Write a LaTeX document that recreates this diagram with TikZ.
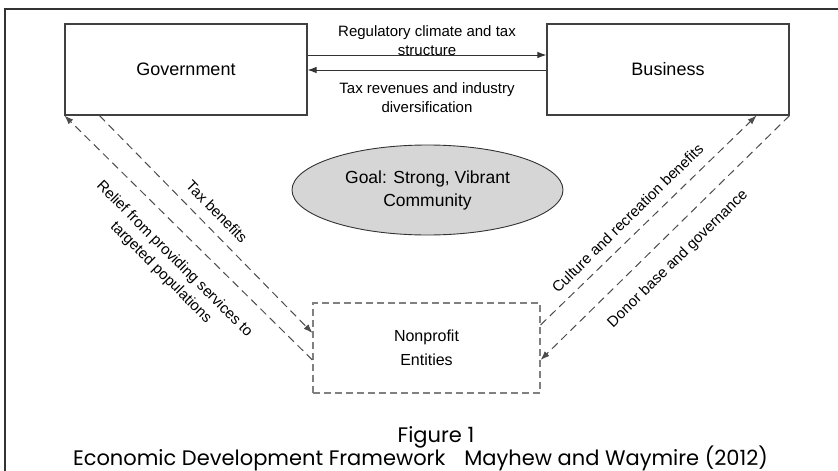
\documentclass[tikz,border=0pt]{standalone}
\usepackage{fontspec}
\setmainfont{Liberation Sans}
\newfontfamily\capfont{Poppins}
\usetikzlibrary{arrows.meta,shapes.geometric}
\begin{document}
\begin{tikzpicture}[x=1pt,y=-1pt,
  boxstyle/.style={draw=black!75,line width=1.1pt,rectangle,
    minimum width=242pt,minimum height=91pt,inner sep=0pt,
    font=\fontsize{18}{20}\selectfont},
  npstyle/.style={draw=black!50,line width=1.1pt,dash pattern=on 7pt off 4pt,
    rectangle,minimum width=227pt,minimum height=90pt,inner sep=0pt,
    align=center,font=\fontsize{16}{24}\selectfont},
  goalstyle/.style={ellipse,draw=black!80,line width=0.9pt,fill=black!16,
    minimum width=271pt,minimum height=90pt,inner sep=0pt,align=center,
    font=\fontsize{17.5}{23}\selectfont},
  flow/.style={draw=black!80,line width=1pt},
  tip/.style={-{Latex[length=9pt,width=6.5pt]}},
  dashflow/.style={draw=black!70,line width=1pt,dash pattern=on 8pt off 5pt},
  lbl/.style={font=\fontsize{15}{19}\selectfont,align=center,inner sep=0pt},
  captext/.style={font=\capfont\fontsize{21}{24}\selectfont,inner sep=0pt,anchor=base}
]
\useasboundingbox (0,0) rectangle (838,471);
\fill[white] (0,0) rectangle (838,471);

% outer frame (its right and bottom edges lie beyond the page)
\draw[black!80,line width=1.6pt] (5,480) -- (5,9) -- (845,9);

% main actors
\node[boxstyle] (gov) at (186,69.5) {Government};
\node[boxstyle] (bus) at (668,69.5) {Business};
\node[npstyle]  (np)  at (426.5,348) {Nonprofit\\Entities};
\node[goalstyle] (goal) at (427.5,190) {Goal: Strong, Vibrant\\Community};

% government <-> business
\draw[flow,tip] ([yshift=14.5pt]gov.east) -- ([yshift=14.5pt]bus.west);
\draw[flow,tip] ([yshift=-0.5pt]bus.west) -- ([yshift=-0.5pt]gov.west -| gov.east);
\node[lbl] (lreg) at (427,40.5) {Regulatory climate and tax\\structure};
\node[lbl] (ltax) at (427,98) {Tax revenues and industry\\diversification};

% government <-> nonprofit
\draw[dashflow,tip] ([yshift=-12pt]np.west) -- (gov.south west);
\draw[dashflow,tip] ([xshift=35pt]gov.south west) -- ([yshift=15pt]np.west);
\node[lbl,rotate=-45.5] (ltb) at (217,211.5) {Tax benefits};
\node[lbl,rotate=-45] (lrel) at (167.5,266) {Relief from providing services to\\targeted populations};

% business <-> nonprofit
\draw[dashflow,tip] ([yshift=23pt]np.east) -- ([xshift=-33pt]bus.south east);
\draw[dashflow,tip] (bus.south east) -- ([yshift=-12pt]np.east);
\node[lbl,rotate=44.5] (lcul) at (627.5,218) {Culture and recreation benefits};
\node[lbl,rotate=44.5] (ldon) at (678,259) {Donor base and governance};

% caption
\node[captext] (cap1) at (436,442) {Figure 1};
\node[captext] (cap2) at (420.5,465) {Economic Development Framework\hspace{0.9em}Mayhew and Waymire (2012)};
\end{tikzpicture}
\end{document}
